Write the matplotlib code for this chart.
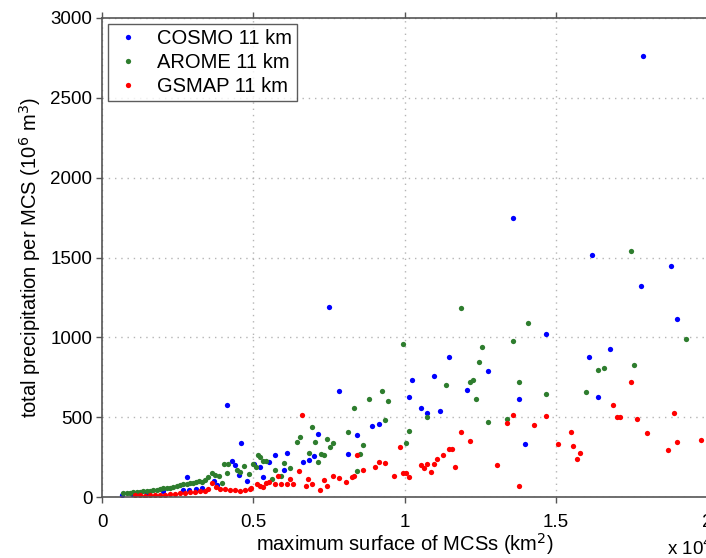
import matplotlib
matplotlib.use("Agg")
import matplotlib.pyplot as plt

plt.rcParams['font.family'] = ['Liberation Sans', 'DejaVu Sans']

# maximum MCS surface (10^4 km2) and total precipitation (10^6 m3)
cosmo_area = [1.790, 1.358, 1.619, 1.881, 1.781, 0.752, 1.901, 1.469, 1.147, 1.610,
              1.680, 1.277, 1.096, 1.025, 1.206, 0.784, 1.015, 1.639, 1.377, 0.413,
              1.055, 1.116, 1.076, 0.915, 0.894, 0.713, 0.843, 0.461, 1.397, 0.572,
              0.613, 0.813, 0.702, 0.683, 0.431, 0.553, 0.663, 0.503, 0.440, 0.522,
              0.603, 0.454, 0.280, 0.532, 0.371, 0.479, 0.381, 0.331, 0.311, 0.289,
              0.269, 0.203, 0.150, 0.100, 0.067]
cosmo_precip = [2760, 1750, 1515, 1447, 1321, 1190, 1115, 1023, 877, 877,
                925, 791, 756, 731, 672, 664, 624, 624, 612, 578,
                555, 539, 524, 457, 445, 396, 386, 339, 330, 261,
                273, 267, 255, 234, 226, 219, 217, 209, 198, 186,
                171, 138, 127, 123, 102, 100, 76, 54, 48, 44,
                44, 38, 28, 20, 15]

arome_area = [1.748, 1.187, 1.408, 1.930, 1.359, 0.994, 1.256, 1.247, 1.760, 1.660,
              1.639, 1.226, 1.216, 1.377, 1.136, 0.924, 1.599, 1.468, 1.237, 0.884,
              0.944, 0.834, 1.076, 1.338, 0.935, 1.277, 0.693, 1.015, 0.813, 0.653,
              0.744, 0.643, 0.703, 1.004, 0.763, 0.864, 0.753, 0.683, 0.723, 0.854,
              0.734, 0.517, 0.521, 0.531, 0.543, 0.714, 0.603, 0.499, 0.402, 0.418,
              0.471, 0.510, 0.623, 0.447, 0.573, 0.843, 0.456, 0.413, 0.363, 0.487,
              0.373, 0.593, 0.386, 0.352, 0.562, 0.342, 0.321, 0.332, 0.312, 0.302,
              0.397, 0.291, 0.280, 0.269, 0.258, 0.247, 0.236, 0.225, 0.214, 0.203,
              0.192, 0.181, 0.170, 0.159, 0.148, 0.137, 0.126, 0.115, 0.104, 0.093,
              0.082, 0.071]
arome_precip = [1541, 1184, 1092, 990, 975, 958, 941, 848, 827, 810,
                797, 733, 722, 722, 701, 666, 660, 645, 614, 612,
                603, 555, 503, 487, 482, 472, 436, 415, 405, 374,
                365, 344, 342, 340, 336, 324, 311, 276, 271, 271,
                263, 263, 252, 228, 228, 219, 213, 205, 209, 209,
                194, 186, 180, 169, 167, 161, 158, 148, 148, 144,
                140, 133, 134, 127, 113, 106, 100, 94, 92, 90,
                86, 86, 81, 81, 77, 71, 65, 58, 56, 54,
                48, 44, 42, 40, 38, 36, 33, 31, 29, 27,
                25, 23]

gsmap_area = [1.749, 1.689, 1.892, 0.662, 1.358, 1.469, 1.701, 1.711, 1.770, 1.338,
              1.428, 1.187, 1.549, 1.800, 1.981, 1.216, 1.901, 1.509, 1.558, 0.986,
              1.157, 1.147, 1.871, 1.579, 1.126, 0.843, 1.106, 1.570, 0.915, 0.935,
              1.096, 1.076, 1.307, 1.055, 1.167, 0.904, 1.065, 0.864, 0.652, 1.086,
              1.004, 0.994, 0.763, 0.832, 0.965, 0.583, 0.825, 1.015, 0.784, 0.682,
              0.621, 0.733, 0.805, 0.552, 0.541, 0.365, 0.693, 0.631, 0.612, 0.592,
              0.572, 0.512, 1.377, 0.743, 0.522, 0.673, 0.376, 0.532, 0.493, 0.488,
              0.352, 0.391, 0.407, 0.722, 0.424, 0.474, 0.440, 0.457, 0.341, 0.325,
              0.308, 0.291, 0.275, 0.258, 0.242, 0.225, 0.209, 0.192, 0.175, 0.159,
              0.142, 0.126, 0.109]
gsmap_precip = [720, 576, 528, 516, 514, 509, 503, 503, 490, 461,
                451, 405, 405, 401, 357, 351, 346, 334, 319, 315,
                303, 301, 296, 278, 263, 261, 238, 238, 217, 211,
                207, 207, 202, 202, 190, 186, 180, 169, 165, 159,
                150, 148, 134, 132, 130, 130, 127, 127, 117, 113,
                111, 106, 96, 92, 90, 86, 83, 81, 79, 79,
                79, 79, 71, 69, 69, 67, 65, 63, 58, 52,
                50, 50, 48, 44, 44, 44, 42, 40, 40, 36,
                31, 29, 25, 23, 19, 17, 15, 13, 11, 11,
                8, 11, 13]

series = [
    ("COSMO 11 km", cosmo_area, cosmo_precip, "#0000ff"),
    ("AROME 11 km", arome_area, arome_precip, "#2e7d2e"),
    ("GSMAP 11 km", gsmap_area, gsmap_precip, "#ff0000"),
]

fig = plt.figure(figsize=(7.06, 5.58), dpi=100)
ax = fig.add_axes([102 / 706, 61 / 558, 605 / 706, 479 / 558])

for label, xs, ys, color in series:
    ax.plot(xs, ys, linestyle="none", marker="o", ms=3.8, mew=0,
            color=color, label=label)

ax.set_xlim(0, 2)
ax.set_ylim(0, 3000)
ax.set_xticks([0, 0.5, 1, 1.5, 2])
ax.set_xticklabels(["0", "0.5", "1", "1.5", "2"])
ax.set_yticks(range(0, 3001, 500))

ax.grid(True, linestyle=(0, (1, 3.5)), color="#b5b5b5", linewidth=1.0)
ax.set_axisbelow(True)

for side in ["left", "bottom", "top"]:
    ax.spines[side].set_color("#555555")
    ax.spines[side].set_linewidth(1.2)
ax.spines["right"].set_visible(False)

ax.tick_params(direction="out", length=4, width=1, color="#555555",
               labelsize=13.5, top=True, pad=3)
ax.tick_params(axis="x", pad=8)

ax.set_xlabel("maximum surface of MCSs (km$^2$)", fontsize=14.5, labelpad=0)
ax.set_ylabel("total precipitation per MCS (10$^6$ m$^3$)", fontsize=14.5, labelpad=5)
fig.text(667 / 706, 1 - 548 / 558, "x 10$^4$", fontsize=13.5, va="center", ha="left")

leg = ax.legend(loc="upper left", fontsize=14.5, frameon=True, fancybox=False,
                borderaxespad=0.3, handletextpad=0.7, labelspacing=0.25,
                handlelength=1.5, borderpad=0.25, markerscale=1.0)
leg.get_frame().set_edgecolor("#333333")
leg.get_frame().set_linewidth(1.0)

fig.savefig("out.png", dpi=100)
